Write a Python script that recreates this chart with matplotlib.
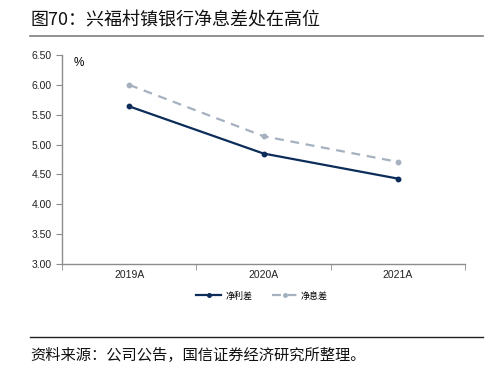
import matplotlib
matplotlib.use("Agg")
import matplotlib.pyplot as plt
from matplotlib.lines import Line2D
import numpy as np

plt.rcParams['font.family'] = ['Noto Sans CJK SC', 'DejaVu Sans']

# data
years = ["2019A", "2020A", "2021A"]
net_spread = [5.64, 4.85, 4.43]   # 净利差
nim = [6.00, 5.14, 4.71]          # 净息差
yticks = [3.0, 3.5, 4.0, 4.5, 5.0, 5.5, 6.0, 6.5]

NAVY = "#0c2c5a"
GREY = "#a6b1c0"
AXC = "#8c8c8c"
NUMFONT = ["Liberation Sans", "DejaVu Sans"]

fig = plt.figure(figsize=(4.95, 3.72), dpi=100)

# title + rule
fig.text(30 / 495, 1 - 20 / 372, "图70：兴福村镇银行净息差处在高位", fontsize=13,
         va="center", ha="left", color="#111111")
fig.add_artist(Line2D([30 / 495, 483 / 495], [1 - 36 / 372] * 2, color="#7f7f7f", lw=1.2))

ax = fig.add_axes([62 / 495, 1 - 264 / 372, 403 / 495, 209 / 372])
x = np.arange(len(years))
ax.plot(x, net_spread, color=NAVY, lw=1.6, marker="o", ms=3.2, label="净利差")
ax.plot(x, nim, color=GREY, lw=1.6, ls=(0, (4, 3)), marker="o", ms=3.2, label="净息差")

ax.set_xlim(-0.5, 2.5)
ax.set_ylim(3.0, 6.5)
ax.set_yticks(yticks)
ax.set_yticklabels([f"{v:.2f}" for v in yticks], family=NUMFONT)
ax.set_xticks(x)
ax.set_xticklabels(years, family=NUMFONT)
ax.set_xticks([-0.5, 0.5, 1.5, 2.5], minor=True)
ax.tick_params(axis="x", which="major", length=0, labelsize=7.5, pad=4, colors="#222222")
ax.tick_params(axis="x", which="minor", length=4, color=AXC, direction="out")
ax.tick_params(axis="y", length=4, color=AXC, labelsize=7.5, colors="#222222")
for s in ["top", "right"]:
    ax.spines[s].set_visible(False)
for s in ["left", "bottom"]:
    ax.spines[s].set_color(AXC)
    ax.spines[s].set_linewidth(1.0)
ax.text(0.03, 0.99, "%", transform=ax.transAxes, fontsize=8.5, va="top", ha="left",
        family=NUMFONT)

leg = fig.legend(loc="center", bbox_to_anchor=(262 / 495, 1 - 296 / 372), ncol=2,
                 frameon=False, fontsize=6.5, handlelength=2.8, columnspacing=2.2,
                 handletextpad=0.4, markerscale=0.8)

fig.add_artist(Line2D([30 / 495, 483 / 495], [1 - 337 / 372] * 2, color="#222222", lw=1.0))
fig.text(30 / 495, 1 - 355 / 372, "资料来源：公司公告，国信证券经济研究所整理。", fontsize=11,
         va="center", ha="left", color="#111111")

fig.savefig("out.png", dpi=100)
